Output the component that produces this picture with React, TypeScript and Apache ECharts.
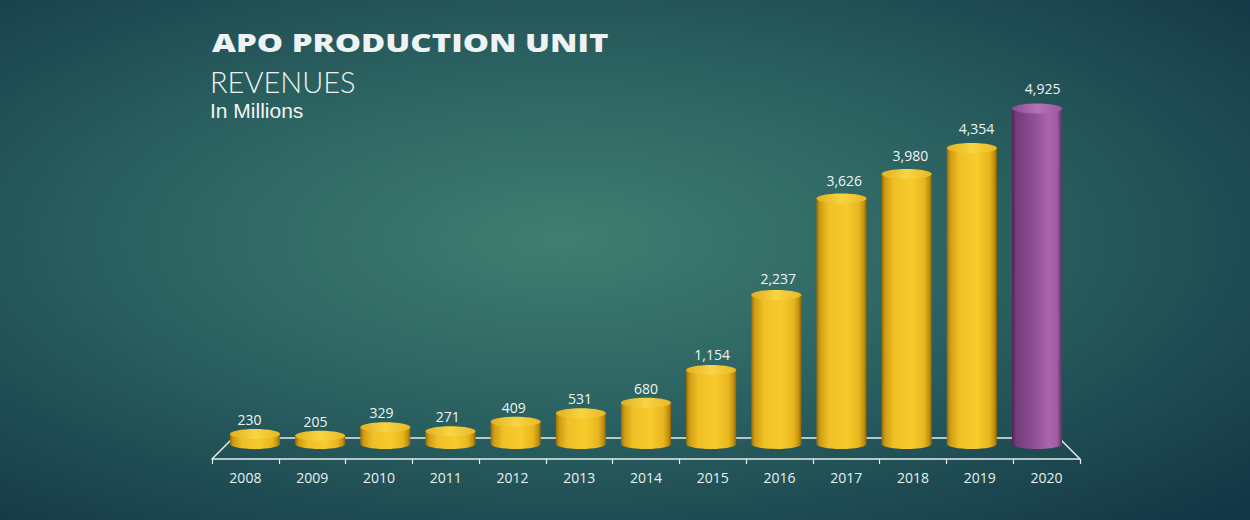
import React, { useEffect, useRef } from "react";
import * as echarts from "echarts";

const years = ["2008", "2009", "2010", "2011", "2012", "2013", "2014", "2015", "2016", "2017", "2018", "2019", "2020"];
const revenues = [230, 205, 329, 271, 409, 531, 680, 1154, 2237, 3626, 3980, 4354, 4925];
const highlightYear = "2020";
const titleText = "APO PRODUCTION UNIT";
const subtitleText = "REVENUES";
const unitText = "In Millions";

const goldBody = [
  { offset: 0, color: "#9a6c06" },
  { offset: 0.07, color: "#cf9d14" },
  { offset: 0.25, color: "#f0c026" },
  { offset: 0.6, color: "#f7cb2c" },
  { offset: 0.85, color: "#e7b51e" },
  { offset: 0.95, color: "#c18f0e" },
  { offset: 1, color: "#8e6306" },
];
const purpleBody = [
  { offset: 0, color: "#4f2254" },
  { offset: 0.08, color: "#723c7a" },
  { offset: 0.4, color: "#8d4d93" },
  { offset: 0.75, color: "#ab66ab" },
  { offset: 0.9, color: "#a25ca3" },
  { offset: 1, color: "#5f2c66" },
];

export default function App() {
  const ref = useRef<HTMLDivElement>(null);
  useEffect(() => {
    const chart = echarts.init(ref.current!, null, { renderer: "svg" });
    const data = revenues.map((v, i) => [i, v]);
    chart.setOption({
      animation: false,
      backgroundColor: {
        type: "radial",
        x: 0.45,
        y: 0.46,
        r: 0.75,
        colorStops: [
          { offset: 0, color: "#3f7e70" },
          { offset: 0.45, color: "#2b6261" },
          { offset: 1, color: "#133645" },
        ],
      },
      grid: { left: 212, right: 170, top: 34, bottom: 70 },
      xAxis: {
        type: "category",
        data: years,
        offset: 9,
        z: 5,
        axisLine: { show: true, onZero: false, lineStyle: { color: "#e4ecec", width: 1.5 } },
        axisTick: { show: true, length: 5, lineStyle: { color: "#e4ecec", width: 1.2 } },
        axisLabel: { color: "#e8f0f0", fontFamily: "Open Sans", fontSize: 14, margin: 11 },
      },
      yAxis: { type: "value", min: 0, max: 6000, show: false, splitLine: { show: false } },
      graphic: [
        {
          type: "text",
          x: 212,
          y: 30,
          scaleX: 1.32,
          style: {
            text: titleText,
            fill: "#eef2f2",
            font: "800 25px 'Open Sans'",
            verticalAlign: "top",
            shadowColor: "rgba(0,0,0,0.55)",
            shadowBlur: 3,
            shadowOffsetX: 2,
            shadowOffsetY: 2,
          },
        },
        {
          type: "text",
          x: 210,
          y: 67,
          style: { text: subtitleText, fill: "#eef2f2", font: "300 29px Lato", verticalAlign: "top", lineHeight: 29 },
        },
        {
          type: "text",
          x: 210,
          y: 100,
          style: { text: unitText, fill: "#f2f4f4", font: "21px 'Liberation Sans'", verticalAlign: "top", lineHeight: 21 },
        },
      ],
      series: [
        {
          type: "custom",
          silent: true,
          data: [[0, 0]],
          z: 1,
          renderItem: (params: any, api: any) => {
            const cs = params.coordSys;
            const base = cs.y + cs.height;
            const front = base + 9;
            const back = base - 12;
            const inset = 21;
            return {
              type: "polyline",
              shape: {
                points: [
                  [cs.x, front],
                  [cs.x + inset, back],
                  [cs.x + cs.width - inset, back],
                  [cs.x + cs.width, front],
                ],
              },
              style: { stroke: "#e4ecec", lineWidth: 1.5, fill: "none" },
            };
          },
        },
        {
          type: "custom",
          data,
          z: 2,
          renderItem: (params: any, api: any) => {
            const cs = params.coordSys;
            const idx = api.value(0);
            const v = api.value(1);
            const p = api.coord([idx, v]);
            const b = api.coord([idx, 0]);
            const mid = cs.x + cs.width / 2;
            const cx = mid + (p[0] - mid) * 0.976;
            const w = api.size([1, 0])[0] * 0.75;
            const rx = w / 2;
            const ry = 5;
            const yt = p[1];
            const yb = b[1] - 6;
            const hi = years[idx] === highlightYear;
            const bodyGrad = new echarts.graphic.LinearGradient(0, 0, 1, 0, hi ? purpleBody : goldBody);
            const capFill = hi
              ? new echarts.graphic.LinearGradient(0, 0, 1, 0, [
                  { offset: 0, color: "#8a4b90" },
                  { offset: 0.5, color: "#b673b6" },
                  { offset: 1, color: "#9c579f" },
                ])
              : new echarts.graphic.LinearGradient(0, 0, 1, 0, [
                  { offset: 0, color: "#e2b020" },
                  { offset: 0.5, color: "#f8d443" },
                  { offset: 1, color: "#e9b823" },
                ]);
            const lx = mid + (p[0] - mid) * 0.99;
            const ly = yt - ry - 2 - v * 0.0012;
            return {
              type: "group",
              children: [
                { type: "ellipse", shape: { cx, cy: yb, rx, ry }, style: { fill: bodyGrad } },
                { type: "rect", shape: { x: cx - rx, y: yt, width: w, height: Math.max(0, yb - yt) }, style: { fill: bodyGrad } },
                { type: "ellipse", shape: { cx, cy: yt, rx, ry }, style: { fill: capFill } },
                {
                  type: "text",
                  x: lx,
                  y: ly,
                  style: {
                    text: v.toLocaleString("en-US"),
                    fill: "#eef4f4",
                    font: "14px 'Open Sans'",
                    align: "center",
                    verticalAlign: "bottom",
                  },
                },
              ],
            };
          },
        },
      ],
    });
    return () => chart.dispose();
  }, []);
  return <div ref={ref} style={{ position: "absolute", left: 0, top: 0, width: 1250, height: 520 }} />;
}
